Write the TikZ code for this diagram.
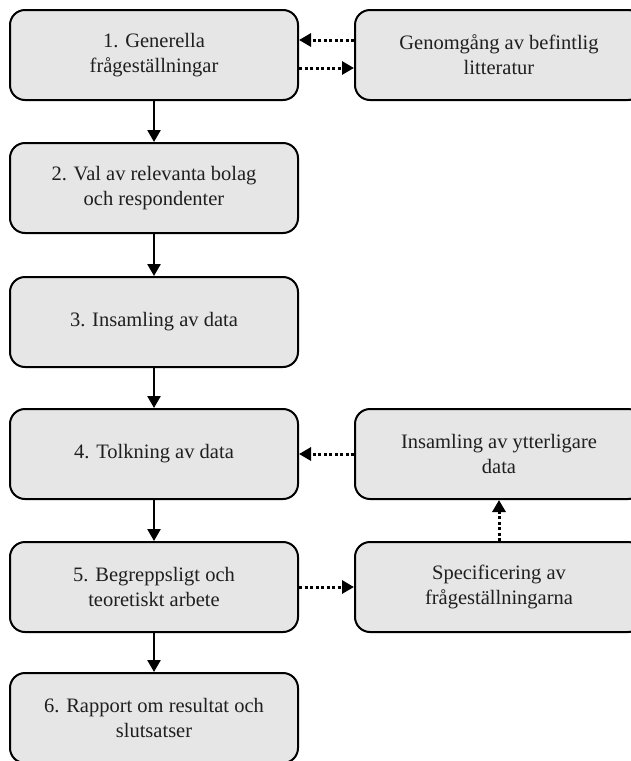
\documentclass[tikz,border=0pt]{standalone}
\usepackage{fontspec}
\setmainfont{Liberation Serif}
\usetikzlibrary{arrows.meta}
\definecolor{boxfill}{HTML}{E6E6E6}
\tikzset{
  stepbox/.style={draw=black, line width=2pt, fill=boxfill, rounded corners=15pt,
    minimum width=288pt, minimum height=90pt, align=center, inner sep=0pt,
    font=\fontsize{20.5}{25}\selectfont, text=black!88},
  flow/.style={line width=2.5pt, -{Triangle[length=12pt,width=13pt]}},
  dflow/.style={line width=3pt, dash pattern=on 3pt off 2.5pt, -{Triangle[length=12pt,width=13pt]}}
}
\begin{document}
\begin{tikzpicture}[x=1pt,y=-1pt]
\useasboundingbox (0,0) rectangle (631,761);
\begin{scope}
\clip (0,0) rectangle (631,761);
\node[stepbox] (b1) at (154,55) {1. Generella\\frågeställningar};
\node[stepbox] (b2) at (154,188) {2. Val av relevanta bolag\\och respondenter};
\node[stepbox] (b3) at (154,322) {3. Insamling av data};
\node[stepbox] (b4) at (154,454) {4. Tolkning av data};
\node[stepbox] (b5) at (154,587) {5. Begreppsligt och\\teoretiskt arbete};
\node[stepbox] (b6) at (154,718) {6. Rapport om resultat och\\slutsatser};
\node[stepbox] (r1) at (499,55) {Genomgång av befintlig\\litteratur};
\node[stepbox] (r4) at (499,454) {Insamling av ytterligare\\data};
\node[stepbox] (r5) at (499,587) {Specificering av\\frågeställningarna};
\end{scope}
\draw[flow] (b1) -- (b2);
\draw[flow] (b2) -- (b3);
\draw[flow] (b3) -- (b4);
\draw[flow] (b4) -- (b5);
\draw[flow] (b5) -- (b6);
\draw[dflow] ([yshift=15pt]r1.west) -- ([yshift=15pt]b1.east);
\draw[dflow] ([yshift=-13pt]b1.east) -- ([yshift=-13pt]r1.west);
\draw[dflow] (r4) -- (b4);
\draw[dflow] (b5) -- (r5);
\draw[dflow] (r5) -- (r4);
\end{tikzpicture}
\end{document}
